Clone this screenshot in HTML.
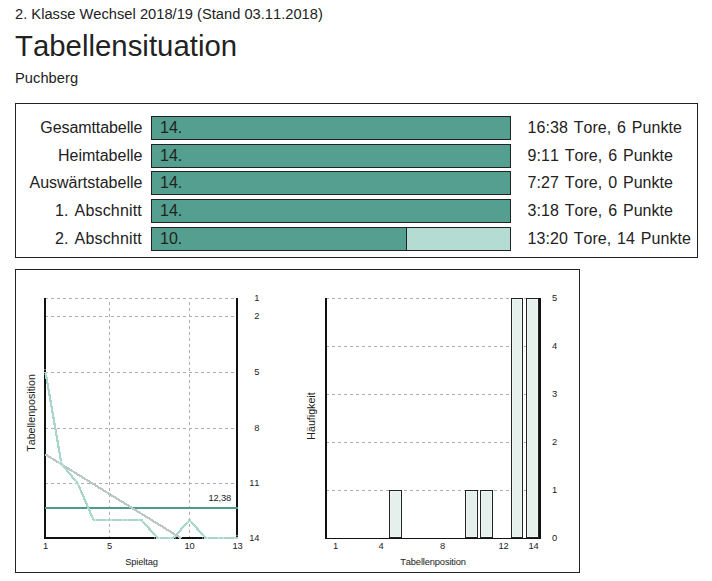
<!DOCTYPE html>
<html><head><meta charset="utf-8">
<style>
html,body{margin:0;padding:0;background:#fff;}
body{width:712px;height:581px;position:relative;overflow:hidden;font-family:"Liberation Sans",sans-serif;color:#222;font-kerning:none;font-feature-settings:"kern" 0,"liga" 0;}
.t{position:absolute;white-space:nowrap;line-height:1;}
#l1{left:15px;top:7px;font-size:14.67px;letter-spacing:0.015px;}
#h1{left:15px;top:31px;font-size:29.33px;letter-spacing:0.02px;}
#l3{left:15px;top:71px;font-size:14.67px;letter-spacing:0.05px;}
#box1{position:absolute;left:15px;top:103px;width:681px;height:153px;border:1px solid #222;}
#box2{position:absolute;left:15px;top:269px;width:563px;height:302px;border:1px solid #222;}
.lab{position:absolute;right:569.6px;font-size:16px;white-space:nowrap;line-height:1;}
.bar{position:absolute;left:151px;width:358px;height:22px;border:1px solid #222;background:#549f8f;}
.bar span{position:absolute;left:8px;top:3px;font-size:16px;line-height:1;}
.val{position:absolute;left:527.5px;word-spacing:1.3px;letter-spacing:0.06px;font-size:16px;white-space:nowrap;line-height:1;}
svg{position:absolute;left:0;top:0;}
svg text{font-family:"Liberation Sans",sans-serif;font-size:9.33px;fill:#222;letter-spacing:-0.15px;}
</style></head><body>
<div class="t" id="l1">2. Klasse Wechsel 2018/19 (Stand 03.11.2018)</div>
<div class="t" id="h1">Tabellensituation</div>
<div class="t" id="l3">Puchberg</div>
<div id="box1"></div>
<div id="box2"></div>

<div class="lab" style="top:120px;letter-spacing:-0.08px">Gesamttabelle</div>
<div class="lab" style="top:148px">Heimtabelle</div>
<div class="lab" style="top:175px">Auswärtstabelle</div>
<div class="lab" style="top:203px;letter-spacing:0.18px;word-spacing:1.2px;right:570px">1. Abschnitt</div>
<div class="lab" style="top:231px;letter-spacing:0.18px;word-spacing:1.2px;right:570px">2. Abschnitt</div>

<div class="bar" style="top:116px"><span>14.</span></div>
<div class="bar" style="top:144px"><span>14.</span></div>
<div class="bar" style="top:171px"><span>14.</span></div>
<div class="bar" style="top:199px"><span>14.</span></div>
<div class="bar" style="top:227px;background:#b5dcd2"><span style="z-index:2">10.</span><div style="position:absolute;left:0;top:0;width:254px;height:22px;background:#549f8f;border-right:1px solid #222"></div></div>

<div class="val" style="top:120px">16:38 Tore, 6 Punkte</div>
<div class="val" style="top:148px">9:11 Tore, 6 Punkte</div>
<div class="val" style="top:175px">7:27 Tore, 0 Punkte</div>
<div class="val" style="top:203px">3:18 Tore, 6 Punkte</div>
<div class="val" style="top:231px">13:20 Tore, 14 Punkte</div>

<svg width="712" height="581" viewBox="0 0 712 581">
<!-- LEFT CHART -->
<g stroke="#adadad" stroke-width="1" stroke-dasharray="3 3" shape-rendering="crispEdges" fill="none">
<path d="M45 298.5H236M45 316.5H236M45 372.5H236M45 428.5H236M45 483.5H236"/>
<path d="M109.5 539V299M189.5 539V299"/>
</g>
<g shape-rendering="crispEdges" fill="#111">
<rect x="44" y="298" width="2" height="241"/>
<rect x="236" y="298" width="2" height="241"/>
<rect x="44" y="537" width="194" height="2"/>
</g>
<rect x="45" y="507" width="193" height="2" fill="#4f9b8b" shape-rendering="crispEdges"/>
<line x1="45.5" y1="454.5" x2="181.5" y2="538.5" stroke="#bac7c5" stroke-width="2.2" shape-rendering="crispEdges"/>
<polyline fill="none" stroke="#a9d6cb" stroke-width="2.2" stroke-linejoin="round" shape-rendering="crispEdges" points="45.5,372 61.5,464 77.5,483 93.5,520 109,520 125,520 141.5,520 157.5,538 173.5,538 189.5,520 205.5,538 221,538 238,538"/>
<g fill="none" stroke="#fff" stroke-width="1" opacity="0.5">
<circle cx="45" cy="372" r="2.5"/><circle cx="61" cy="464" r="2.5"/><circle cx="77" cy="483" r="2.5"/><circle cx="93" cy="520" r="2.5"/><circle cx="109" cy="520" r="2.5"/><circle cx="125" cy="520" r="2.5"/><circle cx="141" cy="520" r="2.5"/><circle cx="157" cy="538" r="2.5"/><circle cx="173" cy="538" r="2.5"/><circle cx="189" cy="520" r="2.5"/><circle cx="205" cy="538" r="2.5"/><circle cx="221" cy="538" r="2.5"/><circle cx="237" cy="538" r="2.5"/>
</g>
<g text-anchor="end">
<text x="259.3" y="301">1</text><text x="259.3" y="319">2</text><text x="259.3" y="375">5</text><text x="259.3" y="431">8</text><text x="259.3" y="486">11</text><text x="259.3" y="541">14</text>
<text x="231" y="501">12,38</text>
</g>
<g text-anchor="middle">
<text x="45.5" y="549">1</text><text x="109.5" y="549">5</text><text x="189.5" y="549">10</text><text x="237.5" y="549">13</text>
<text x="141.5" y="565">Spieltag</text>
<text transform="translate(34.7,413) rotate(-90)" style="font-size:10.67px;letter-spacing:0">Tabellenposition</text>
</g>
<!-- RIGHT CHART -->
<g stroke="#adadad" stroke-width="1" stroke-dasharray="3 3" shape-rendering="crispEdges" fill="none">
<path d="M326 298.5H539M326 346.5H539M326 394.5H539M326 442.5H539M326 490.5H539"/>
</g>
<g shape-rendering="crispEdges" fill="#e5efec" stroke="#222" stroke-width="1">
<rect x="389.5" y="490.5" width="12" height="47"/>
<rect x="465.5" y="490.5" width="12" height="47"/>
<rect x="480.5" y="490.5" width="12" height="47"/>
<rect x="511.5" y="298.5" width="11" height="239"/>
<rect x="526.5" y="298.5" width="12" height="239"/>
</g>
<g shape-rendering="crispEdges" fill="none" stroke="#eef6f3" stroke-width="1">
<rect x="390.5" y="491.5" width="10" height="45"/>
<rect x="466.5" y="491.5" width="10" height="45"/>
<rect x="481.5" y="491.5" width="10" height="45"/>
<rect x="512.5" y="299.5" width="9" height="237"/>
<rect x="527.5" y="299.5" width="10" height="237"/>
</g>
<g shape-rendering="crispEdges" fill="#111">
<rect x="325" y="298" width="2" height="241"/>
<rect x="539" y="298" width="2" height="241"/>
<rect x="325" y="538" width="216" height="1"/>
</g>
<g text-anchor="middle">
<text x="554.5" y="301">5</text><text x="554.5" y="349">4</text><text x="554.5" y="397">3</text><text x="554.5" y="445">2</text><text x="554.5" y="493">1</text><text x="554.5" y="541">0</text>
<text x="335.5" y="549">1</text><text x="381" y="549">4</text><text x="442.5" y="549">8</text><text x="503.5" y="549">12</text><text x="533.5" y="549">14</text>
<text x="433" y="565">Tabellenposition</text>
<text transform="translate(314.7,416) rotate(-90)" style="font-size:10.67px;letter-spacing:0">Häufigkeit</text>
</g>
</svg>
</body></html>
